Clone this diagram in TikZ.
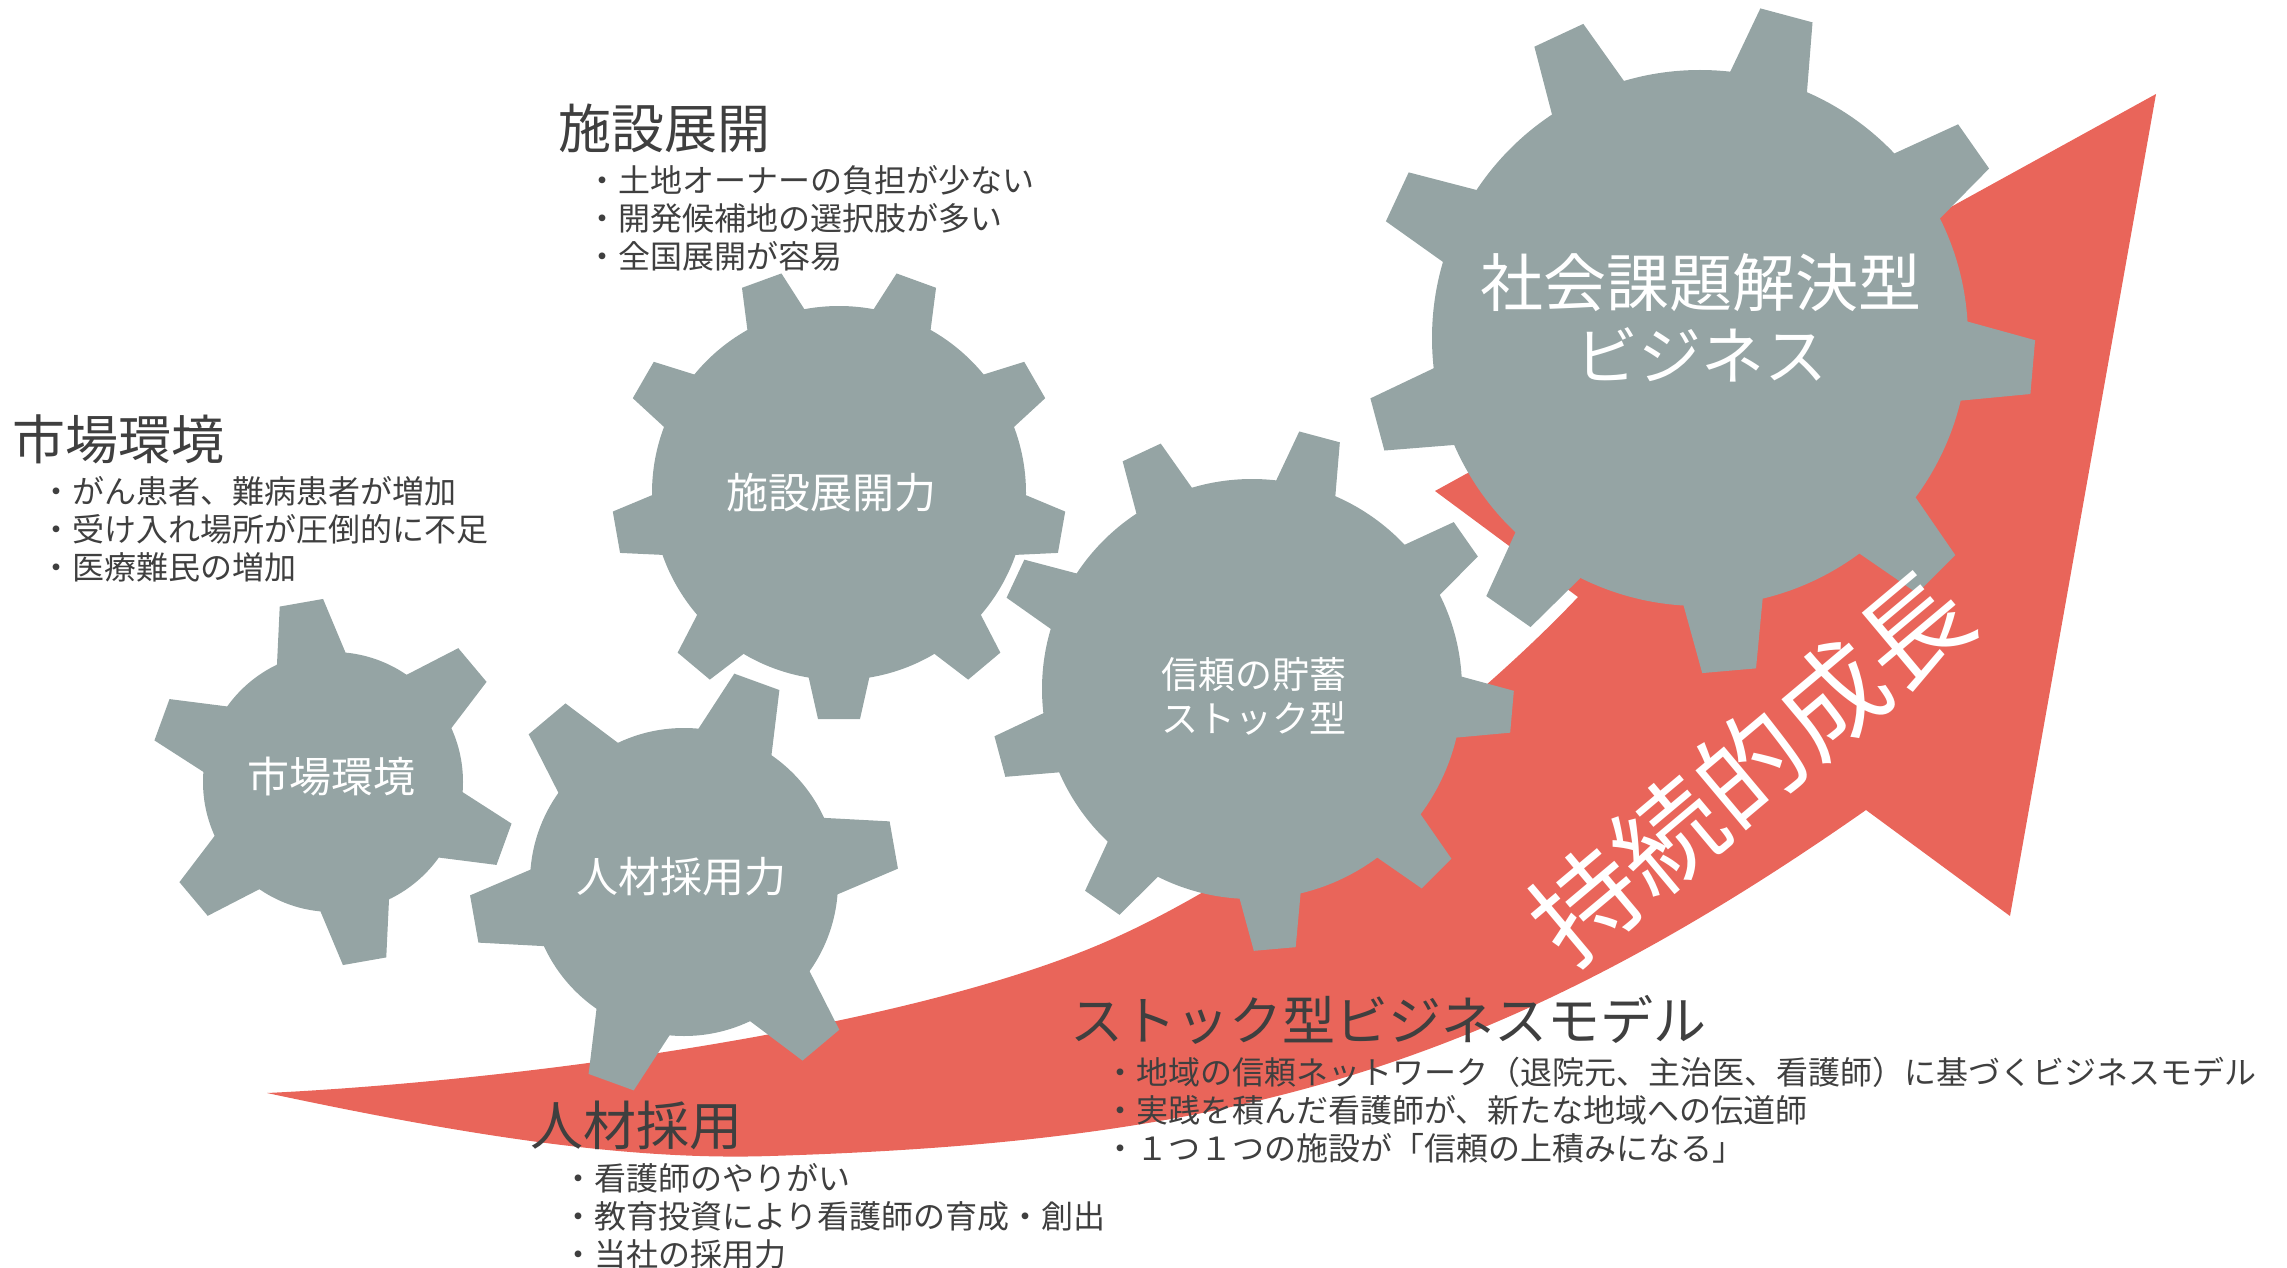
\documentclass[tikz,border=0pt]{standalone}
\usepackage{fontspec}
\newfontfamily\jpfont{Noto Sans CJK JP}
\definecolor{gearclr}{HTML}{95A4A4}
\definecolor{arrowclr}{HTML}{E9655A}
\definecolor{textclr}{HTML}{3F3F3F}

\begin{document}
\begin{tikzpicture}[x=1pt, y=-1pt,
    gear/.style={fill=gearclr},
    geartext/.style={text=white, align=center, inner sep=0pt},
    headline/.style={anchor=base west, inner sep=0pt, text=textclr, font=\jpfont\fontsize{53}{60}\selectfont},
    bulletline/.style={anchor=base west, inner sep=0pt, text=textclr, font=\jpfont\fontsize{32}{38}\selectfont}]
  \useasboundingbox (0,0) rectangle (2287,1268);
  % Growth arrow
  \fill[arrowclr] (267,1093) .. controls (450,1132) and (620,1161) .. (770,1156)
    .. controls (1220,1142) and (1486,1076) .. (1866,810)
    -- (2010,916) -- (2156,94) -- (1435,491) -- (1578,597)
    .. controls (1478,703) and (1273,870) .. (1103,943)
    .. controls (903,1029) and (517,1081) .. (267,1093) -- cycle;
  % Gear 1: market
  \fill[gear] (333,782) circle (130pt);
  \foreach \a in {100,40,-20,-80,-140,160}
    \fill[gear, shift={(333,782)}, rotate=\a] (120,-36) -- (182,-22) -- (182,22) -- (120,36) -- cycle;
  % Gear 2: staffing
  \fill[gear] (684,882) circle (154pt);
  \foreach \a in {-110,-50,10,70,130,190}
    \fill[gear, shift={(684,882)}, rotate=\a] (144,-40) -- (213,-24) -- (213,24) -- (144,40) -- cycle;
  % Gear 3: facilities
  \fill[gear] (839,493) circle (187pt);
  \foreach \a in {-90,-50,...,230}
    \fill[gear, shift={(839,493)}, rotate=\a] (177,-32) -- (226,-21) -- (226,21) -- (177,32) -- cycle;
  % Gear 4: trust
  \fill[gear] (1252,689) circle (210pt);
  \foreach \a in {-85,-45,...,235}
    \fill[gear, shift={(1252,689)}, rotate=\a] (200,-32) -- (261,-21) -- (261,21) -- (200,32) -- cycle;
  % Gear 5: social business
  \fill[gear] (1700,338) circle (268pt);
  \foreach \a in {-85,-45,...,235}
    \fill[gear, shift={(1700,338)}, rotate=\a] (258,-41) -- (334,-27) -- (334,27) -- (258,41) -- cycle;
  % Gear labels
  \node[geartext, font=\jpfont\fontsize{42}{50}\selectfont] (g1-label) at (331,777) {市場環境};
  \node[geartext, font=\jpfont\fontsize{42}{50}\selectfont] (g2-label) at (681,877) {人材採用力};
  \node[geartext, font=\jpfont\fontsize{42}{50}\selectfont] (g3-label) at (831,493) {施設展開力};
  \node[geartext, font=\jpfont\fontsize{37}{44}\selectfont] (g4-label) at (1254,696) {信頼の貯蓄\\ストック型};
  \node[geartext, font=\jpfont\fontsize{63}{73}\selectfont] (g5-label) at (1701,318) {社会課題解決型\\ビジネス};
  \node[geartext, rotate=40, font=\jpfont\fontsize{107}{120}\selectfont] (growth) at (1750,767) {持続的成長};
  % Market environment
  \node[headline] (mkt-head) at (12,459) {市場環境};
  \foreach \t [count=\i] in {がん患者、難病患者が増加,受け入れ場所が圧倒的に不足,医療難民の増加}
    \node[bulletline] (mkt-\i) at (40,{503+38*(\i-1)}) {・\t};
  % Facility expansion
  \node[headline] (site-head) at (558,149) {施設展開};
  \foreach \t [count=\i] in {土地オーナーの負担が少ない,開発候補地の選択肢が多い,全国展開が容易}
    \node[bulletline] (site-\i) at (586,{193+38*(\i-1)}) {・\t};
  % Staffing
  \node[headline] (staff-head) at (530,1145) {人材採用};
  \foreach \t [count=\i] in {看護師のやりがい,教育投資により看護師の育成・創出,当社の採用力}
    \node[bulletline] (staff-\i) at (562,{1190+38*(\i-1)}) {・\t};
  % Stock business model
  \node[headline] (stock-head) at (1070,1040) {ストック型ビジネスモデル};
  \foreach \t [count=\i] in {地域の信頼ネットワーク（退院元、主治医、看護師）に基づくビジネスモデル,実践を積んだ看護師が、新たな地域への伝道師,１つ１つの施設が「信頼の上積みになる」}
    \node[bulletline] (stock-\i) at (1104,{1084+38*(\i-1)}) {・\t};
\end{tikzpicture}
\end{document}
